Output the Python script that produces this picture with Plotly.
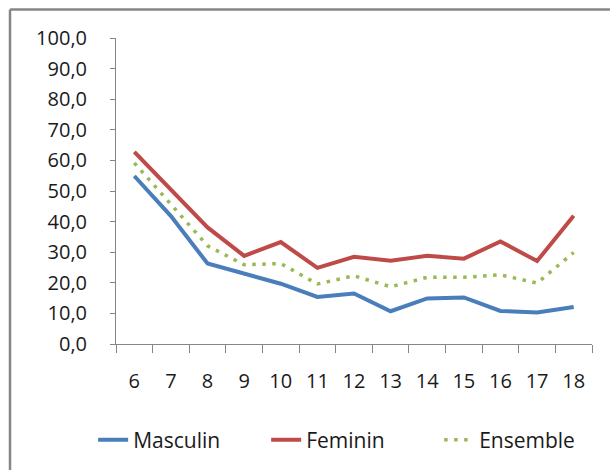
import plotly.graph_objects as go

ages = ["6", "7", "8", "9", "10", "11", "12", "13", "14", "15", "16", "17", "18"]
masculin = [54.9, 41.8, 26.3, 22.9, 19.7, 15.4, 16.5, 10.7, 14.9, 15.2, 10.8, 10.3, 12.1]
feminin = [62.8, 50.6, 38.1, 28.8, 33.3, 24.9, 28.5, 27.2, 28.8, 27.9, 33.5, 27.1, 41.9]
ensemble = [59.2, 45.8, 32.1, 25.9, 26.3, 19.6, 22.3, 18.7, 21.8, 21.8, 22.6, 19.9, 29.9]

FONT = "Open Sans"
GRAY = "#868686"

fig = go.Figure()
fig.add_trace(go.Scatter(x=ages, y=masculin, name="Masculin", mode="lines",
                         line=dict(color="#4A7EBB", width=4)))
fig.add_trace(go.Scatter(x=ages, y=feminin, name="Feminin", mode="lines",
                         line=dict(color="#BE4B48", width=4)))
fig.add_trace(go.Scatter(x=ages, y=ensemble, name="Ensemble", mode="lines",
                         line=dict(color="#98B954", width=3.5, dash="3.5px,6.5px")))

fig.update_layout(
    width=610, height=470,
    margin=dict(l=116, r=18, t=38, b=126, autoexpand=False),
    paper_bgcolor="white", plot_bgcolor="white",
    separators=", ",
    font=dict(family=FONT, size=20, color="#1a1a1a"),
    showlegend=True,
    legend=dict(orientation="h", x=-0.048, xanchor="left", y=-0.314, yanchor="middle",
                font=dict(family=FONT, size=21, color="#1a1a1a"),
                entrywidth=128, entrywidthmode="pixels", bgcolor="rgba(0,0,0,0)"),
    xaxis=dict(type="category", tickson="boundaries", ticks="outside", ticklen=8,
               tickcolor=GRAY, showline=True, linecolor=GRAY, linewidth=1,
               showgrid=False, zeroline=False, range=[-0.5, 12.5], automargin=False,
               ticklabelstandoff=19, tickfont=dict(family=FONT, size=20)),
    yaxis=dict(range=[0, 100], tickmode="linear", tick0=0, dtick=10, tickformat=".1f",
               ticks="outside", ticklen=5, tickcolor=GRAY, showline=True,
               linecolor=GRAY, linewidth=1, showgrid=False, zeroline=False, automargin=False,
               ticklabelstandoff=19, tickfont=dict(family=FONT, size=20)),
    shapes=[
        dict(type="line", xref="paper", yref="paper", x0=-0.2227, x1=1.1, y0=1.0933, y1=1.0933,
             line=dict(color=GRAY, width=2.5)),
        dict(type="line", xref="paper", yref="paper", x0=-0.2227, x1=-0.2227, y0=1.0933, y1=-0.5,
             line=dict(color=GRAY, width=2.5)),
    ],
)

fig.write_html(
    "out.html",
    config={"displayModeBar": False},
    post_script="document.body.style.margin='0';document.body.style.overflow='hidden';",
)
